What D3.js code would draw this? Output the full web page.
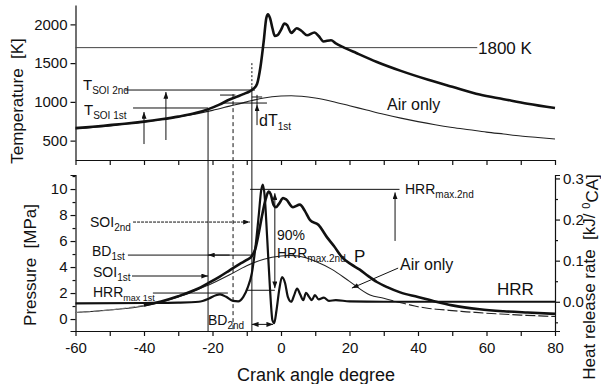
<!DOCTYPE html>
<html>
<head>
<meta charset="utf-8">
<script src="https://cdn.jsdelivr.net/npm/d3@7"></script>
<style>
  body { margin: 0; background: #fff; }
  svg text { font-family: "Liberation Sans", Arial, sans-serif; fill: #111; white-space: pre; }
  .axis path, .axis line { stroke: #111; stroke-width: 1.2; }
  .axis text { font-size: 15px; }
  .ann { stroke: #111; stroke-width: 1; fill: none; }
</style>
</head>
<body>
<div id="chart"></div>
<script>
// ---- data ----
// temperature, fired case
var tFiredCA = [-60,-55,-50,-45,-40,-35,-30,-25,-21,-18,-15,-13,-11,-9,-8,-7,-6,-5,-4.3,-3.8,-3.2,-2.5,-1.8,-1,0,1,1.8,3,4.6,6,7.6,9.8,11,12.4,14.6,16,18,22,28,35,43,50,58,65,72,80];
var tFiredK  = [663,680,700,720,745,775,810,855,910,965,1030,1065,1100,1140,1170,1230,1450,1800,2080,2130,2080,1950,1850,1860,1930,2010,1990,1890,1950,1915,1860,1895,1850,1780,1795,1755,1710,1630,1515,1400,1285,1195,1095,1035,975,920];
// temperature, air only
var tAirCA = [-60,-50,-40,-30,-20,-15,-10,-5,0,3,6,10,15,20,25,30,35,40,45,50,55,60,65,70,75,80];
var tAirK  = [650,690,740,805,890,945,1000,1050,1075,1080,1072,1050,1005,950,895,840,790,745,705,670,640,610,585,560,540,520];
// pressure, fired case
var pFiredCA  = [-60,-50,-40,-35,-30,-25,-21,-18,-15,-12,-10,-8.5,-7.5,-6.5,-5.5,-4.5,-3.6,-3,-2.2,-1.5,-0.5,0.6,1.5,3.5,5.5,7,8.5,10.9,13.4,15.5,18,20.5,23,25.5,28,31,34.8,40,45,50,58,65,72,80];
var pFiredMPa = [0.5,0.7,1.05,1.35,1.75,2.25,2.8,3.25,3.75,4.25,4.55,4.85,5.4,6.6,8.0,9.2,9.8,9.6,8.8,8.6,8.9,9.3,9.2,8.6,8.8,8.3,7.6,7.25,6.3,5.6,4.7,4.2,3.8,3.3,2.85,2.45,2.05,1.7,1.35,1.05,0.75,0.6,0.5,0.4];
// pressure, air only
var pAirCA  = [-60,-50,-40,-30,-25,-20,-15,-10,-5,0,2.5,5,10,15,20,26,30,35,40,50,60,70,80];
var pAirMPa = [0.5,0.7,1.0,1.7,2.2,2.75,3.4,4.1,4.6,4.85,4.9,4.85,4.45,3.8,2.9,1.85,1.6,1.25,0.95,0.65,0.45,0.3,0.2];
// heat release rate, fired case
var hrrCA  = [-60,-40,-30,-24,-21,-19,-17.8,-16,-14,-12.5,-11,-9.7,-8.5,-7.5,-6.5,-5.8,-5.3,-4.8,-4,-3.2,-2.5,-2,-1.3,-0.5,0.3,1.2,2,3,3.8,4.7,5.6,6.5,7.3,8.2,9,9.9,11,12.5,14,16,20,30,40,60,80];
var hrrVal = [-0.004,-0.003,-0.002,0,0.008,0.016,0.018,0.012,0.002,0.001,0.012,0.035,0.07,0.13,0.21,0.27,0.285,0.26,0.15,0.03,-0.045,-0.052,-0.02,0.03,0.06,0.045,0.012,0.0,0.015,0.032,0.018,0.004,0.022,0.012,0.004,0.016,0.006,0.01,0.002,0.004,0.001,0,0,0,0];

var caTicks = d3.range(-60, 81, 10);
var caLabels = d3.range(-60, 81, 20);
var tTicks = [500, 1000, 1500, 2000];
var pTicks = d3.range(0, 12, 1);
var pLabels = d3.range(0, 11, 2);
var hTicks = [-0.05, 0, 0.05, 0.1, 0.15, 0.2, 0.25, 0.3];
var hLabels = [0, 0.1, 0.2, 0.3];

function zip(a, b) { return a.map(function(d, i) { return [d, b[i]]; }); }

var width = 601, height = 384;
var svg = d3.select("#chart").append("svg")
  .attr("width", width)
  .attr("height", height);

var x  = d3.scaleLinear().domain([-60, 80]).range([75.5, 555]);
var yT = d3.scaleLinear().domain([250, 2250]).range([160, 5]);
var yP = d3.scaleLinear().domain([-0.92, 11.08]).range([331, 175]);
var yH = d3.scaleLinear().domain([-0.0711, 0.3084]).range([331, 175]);

var defs = svg.append("defs");
defs.append("marker").attr("id", "arr")
  .attr("viewBox", "0 0 8 6").attr("refX", 8).attr("refY", 3)
  .attr("markerWidth", 7).attr("markerHeight", 5)
  .attr("markerUnits", "userSpaceOnUse").attr("orient", "auto-start-reverse")
  .append("path").attr("d", "M0,0L8,3L0,6Z").attr("fill", "#111");

// ---- axes ----
svg.append("g").attr("class", "axis").attr("transform", "translate(0,160)")
  .call(d3.axisBottom(x).tickValues(caTicks).tickFormat("").tickSize(5).tickSizeOuter(0));
svg.append("g").attr("class", "axis").attr("transform", "translate(0,331)")
  .call(d3.axisBottom(x).tickValues(caTicks).tickSize(5).tickSizeOuter(0)
    .tickFormat(function(d) { return caLabels.indexOf(d) >= 0 ? d : ""; }))
  .selectAll("text").attr("dy", "0.95em");
svg.append("g").attr("class", "axis").attr("transform", "translate(75.5,0)")
  .call(d3.axisLeft(yT).tickValues(tTicks).tickSize(5).tickSizeOuter(0).tickFormat(d3.format("d")));
svg.append("g").attr("class", "axis").attr("transform", "translate(75.5,0)")
  .call(d3.axisLeft(yP).tickValues(pTicks).tickSizeOuter(0)
    .tickSize(5)
    .tickFormat(function(d) { return pLabels.indexOf(d) >= 0 ? d : ""; }))
  .selectAll(".tick line").attr("x2", function(d) { return pLabels.indexOf(d) >= 0 ? -5 : -3; });
svg.append("g").attr("class", "axis").attr("transform", "translate(555,0)")
  .call(d3.axisRight(yH).tickValues(hTicks).tickSizeOuter(0).tickSize(5)
    .tickFormat(function(d) { return hLabels.indexOf(d) >= 0 ? d3.format(".1f")(d) : ""; }))
  .selectAll(".tick line").attr("x2", function(d) { return hLabels.indexOf(d) >= 0 ? 5 : 3; });

// axis titles
svg.append("text").attr("transform", "translate(23,101) rotate(-90)")
  .attr("text-anchor", "middle").style("font-size", "17px").text("Temperature  [K]");
svg.append("text").attr("transform", "translate(36,265) rotate(-90)")
  .attr("text-anchor", "middle").style("font-size", "17px").text("Pressure  [MPa]");
var rt = svg.append("text").attr("transform", "translate(595,277) rotate(-90)")
  .attr("text-anchor", "middle").style("font-size", "17px");
rt.append("tspan").text("Heat release rate  [kJ/ ");
rt.append("tspan").attr("dy", "-0.45em").style("font-size", "11px").text("0");
rt.append("tspan").attr("dy", "0.45em").text("CA]");
svg.append("text").attr("x", 316).attr("y", 381).attr("text-anchor", "middle")
  .style("font-size", "18px").text("Crank angle degree");

// ---- curves ----
function lineFor(yScale) {
  return d3.line().x(function(d) { return x(d[0]); })
    .y(function(d) { return yScale(d[1]); }).curve(d3.curveMonotoneX);
}

// 1800 K reference
svg.append("line").attr("x1", x(-60)).attr("x2", x(57.3))
  .attr("y1", yT(1700)).attr("y2", yT(1700))
  .attr("stroke", "#444").attr("stroke-width", 1);

svg.append("path").datum(zip(tAirCA, tAirK)).attr("d", lineFor(yT))
  .attr("fill", "none").attr("stroke", "#222").attr("stroke-width", 1.1);
svg.append("path").datum(zip(tFiredCA, tFiredK)).attr("d", lineFor(yT))
  .attr("fill", "none").attr("stroke", "#111").attr("stroke-width", 2.6);

var pa = zip(pAirCA, pAirMPa);
svg.append("path").datum(pa).attr("d", lineFor(yP))
  .attr("fill", "none").attr("stroke", "#222").attr("stroke-width", 1.1);
svg.append("path").datum(pa.filter(function(d) { return d[0] >= 30; })).attr("d", lineFor(yP))
  .attr("fill", "none").attr("stroke", "#fff").attr("stroke-width", 2)
  .attr("stroke-dasharray", "0,10,3,0");
var pf = zip(pFiredCA, pFiredMPa);
svg.append("path").datum(pf.filter(function(d) { return d[0] <= -38; })).attr("d", lineFor(yP))
  .attr("fill", "none").attr("stroke", "#777").attr("stroke-width", 1.1).attr("stroke-dasharray", "6,3");
svg.append("path").datum(pf.filter(function(d) { return d[0] >= -40; })).attr("d", lineFor(yP))
  .attr("fill", "none").attr("stroke", "#111").attr("stroke-width", 2.6);

svg.append("path").datum(zip(hrrCA, hrrVal)).attr("d", lineFor(yH))
  .attr("fill", "none").attr("stroke", "#111").attr("stroke-width", 2.2);

// ---- annotations ----
var ann = svg.append("g");
function seg(x1, y1, x2, y2, dash, head, tail) {
  var l = ann.append("line").attr("class", "ann")
    .attr("x1", x1).attr("y1", y1).attr("x2", x2).attr("y2", y2);
  if (dash) l.attr("stroke-dasharray", dash);
  if (head) l.attr("marker-end", "url(#arr)");
  if (tail) l.attr("marker-start", "url(#arr)");
  return l;
}
function label(px, py, main, sub, size, subSize) {
  var t = svg.append("text").attr("x", px).attr("y", py).style("font-size", size + "px");
  t.append("tspan").text(main);
  if (sub) t.append("tspan").attr("dy", "0.4em").style("font-size", subSize + "px").text(sub);
  return t;
}

// top panel
seg(x(-45.5), yT(1153), x(-7.6), yT(1153));
seg(x(-43.2), yT(921), x(-21.3), yT(921));
seg(x(-40), yT(456), x(-40), yT(869), null, true);
seg(x(-33.6), yT(508), x(-33.6), yT(1127), null, true);
seg(x(-17.8), yT(1088), x(-13.3), yT(1088));
seg(x(-16.9), yT(985), x(-4.1), yT(985));
seg(x(-8.5), yT(1063), x(-5.5), yT(1063));
seg(x(-7), yT(700), x(-7), yT(965), null, true);
seg(x(-7), yT(965), x(-7), yT(1090));

// guides running through both panels
seg(x(-21.3), yT(910), x(-21.3), yP(-0.92));
seg(x(-14), yT(1100), x(-14), yP(-0.92), "4,3");
seg(x(-8.5), yT(1500), x(-8.5), yT(1200), "2,2");
seg(x(-8.5), yT(1200), x(-8.5), yP(-0.92));

// bottom panel
seg(x(-43.2), yP(7.46), x(-9.1), yP(7.46), "3,1", true).attr("stroke", "#444");
seg(x(-44.7), yP(4.92), x(-8.5), yP(4.92));
seg(x(-15), yP(4.92), x(-21.3), yP(4.92), null, true);
seg(x(-43.5), yP(3.31), x(-21.3), yP(3.31), null, true);
seg(x(-37.4), yP(2.0), x(-15.5), yP(2.0));
seg(x(-9), yH(0.2735), x(34.6), yH(0.2735));
seg(x(33.3), yH(0.148), x(33.3), yH(0.266), null, true);
seg(x(-1.8), yH(0.033), x(-1.8), yH(0.264), null, true, true);
seg(x(-9.9), yH(0.028), x(-1.8), yH(0.028));
seg(x(-8.5), yH(-0.055), x(-2.3), yH(-0.055), null, true, true);
seg(x(34.2), yP(3.92), x(20.7), yP(2.38), null, true);

// texts
label(83, 90, "T", "SOI 2nd", 15, 10);
label(84, 115, "T", "SOI 1st", 15, 10);
label(259, 126, "dT", "1st", 16, 10);
label(478, 54, "1800 K", null, 17);
label(387, 110, "Air only", null, 16);

label(90, 227, "SOI", "2nd", 14, 10);
label(92, 256, "BD", "1st", 14, 10);
label(93, 277, "SOI", "1st", 14, 10);
label(93, 297, "HRR", "max 1st", 14, 9);
label(277, 240, "90%", null, 14);
label(277, 258, "HRR", "max.2nd", 14, 10);
label(354, 262, "P", null, 17);
label(400, 270, "Air only", null, 16);
label(405, 194, "HRR", "max.2nd", 14, 10);
label(497, 295, "HRR", null, 17);
label(208, 325, "BD", "2nd", 14, 10);
</script>
</body>
</html>
